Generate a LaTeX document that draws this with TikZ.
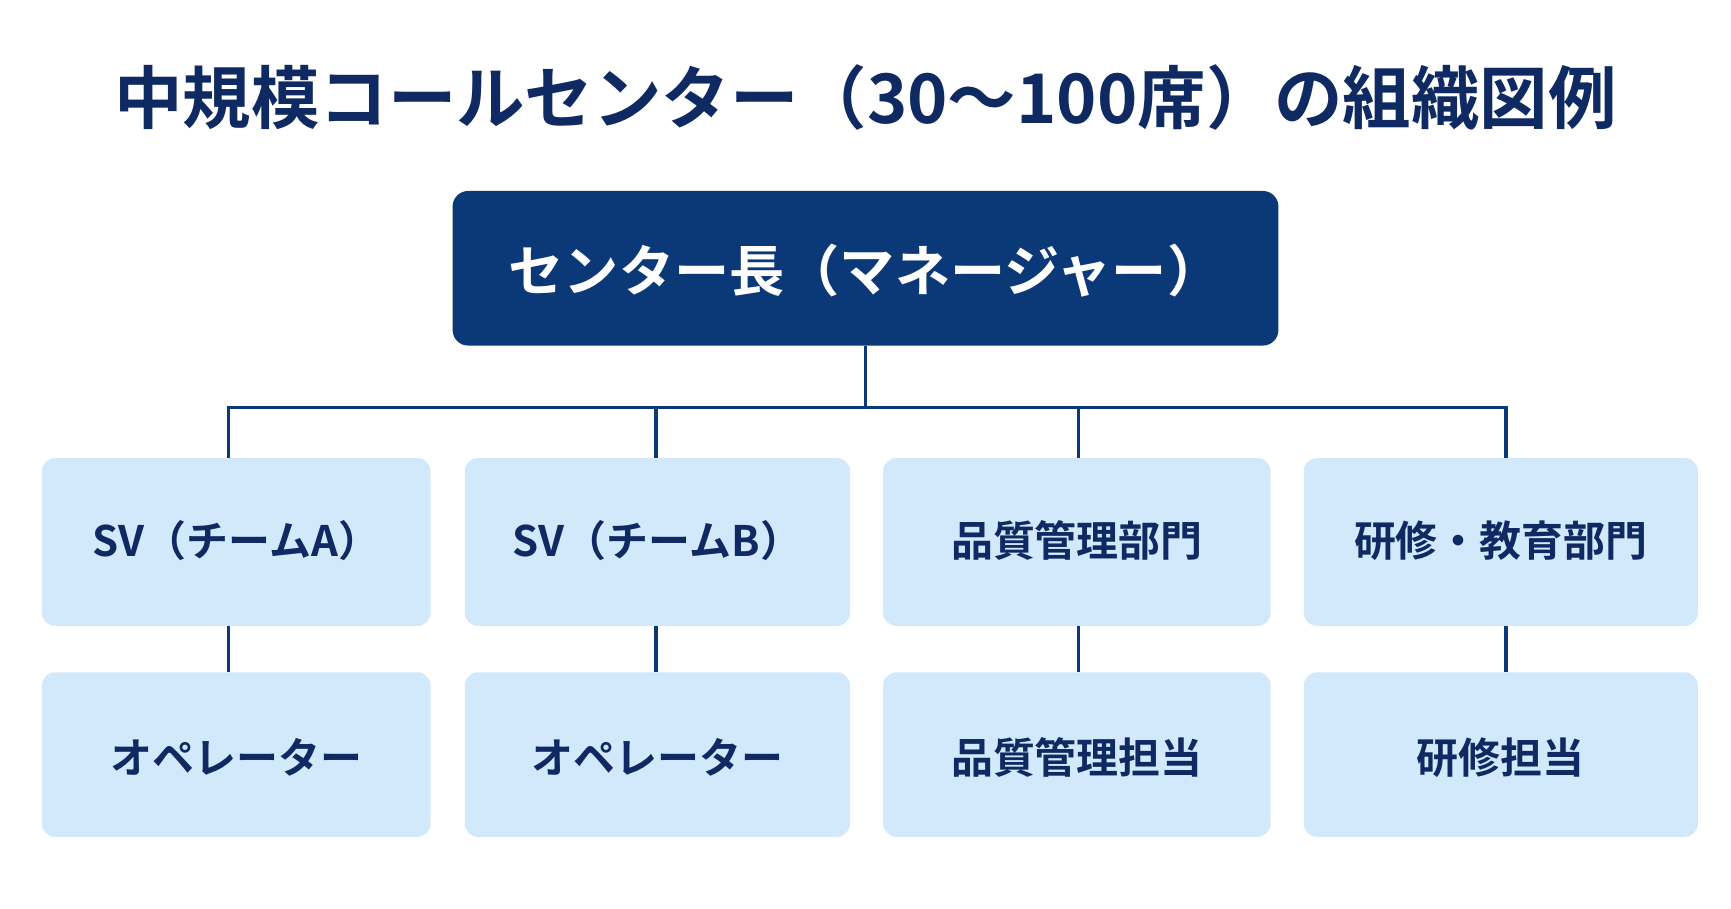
\documentclass[tikz,border=0pt]{standalone}
\usepackage{fontspec}
\setmainfont{Noto Sans CJK JP}[BoldFont={* Bold}]
\definecolor{navy}{HTML}{0B3877}
\definecolor{titlec}{HTML}{0F2A62}
\definecolor{lightb}{HTML}{D2E8FB}
\begin{document}
\begin{tikzpicture}[x=0.5pt,y=-0.5pt,
  top/.style={fill=navy,rounded corners=7pt},
  sub/.style={fill=lightb,rounded corners=6pt},
  lbl/.style={text=titlec,font=\fontsize{19pt}{22pt}\selectfont\bfseries},
  ln/.style={draw=navy,line width=1.6pt}]
\useasboundingbox[fill=white] (0,0) rectangle (1568,823);
\node[text=titlec,font=\fontsize{31pt}{36pt}\selectfont\bfseries] (title) at (784,88) {中規模コールセンター（30〜100席）の組織図例};
\fill[top] (410,173) rectangle (1158,313);
\node[text=white,font=\fontsize{25pt}{30pt}\selectfont\bfseries] (mgr) at (784,245) {センター長（マネージャー）};
\coordinate (mgrb) at (784,313);
\coordinate (bus) at (784,369);
\foreach \a/\b/\n/\t/\u in {38/390/a/SV（チームA）/オペレーター,421/770/b/SV（チームB）/オペレーター,800/1151/c/品質管理部門/品質管理担当,1181/1538/d/研修・教育部門/研修担当}{
  \fill[sub] (\a,415) rectangle (\b,567);
  \fill[sub] (\a,609) rectangle (\b,758);
  \node[lbl] (\n1) at ({(\a+\b)/2},490) {\t};
  \node[lbl] (\n2) at ({(\a+\b)/2},686) {\u};
}
\draw[ln] (mgrb) -- (bus);
\draw[ln] (207,415) -- (207,369) -- (1364,369) -- (1364,415);
\draw[ln] (594,369) -- (594,415);
\draw[ln] (977,369) -- (977,415);
\foreach \x in {207,594,977,1364}{\draw[ln] (\x,567) -- (\x,609);}
\end{tikzpicture}
\end{document}
